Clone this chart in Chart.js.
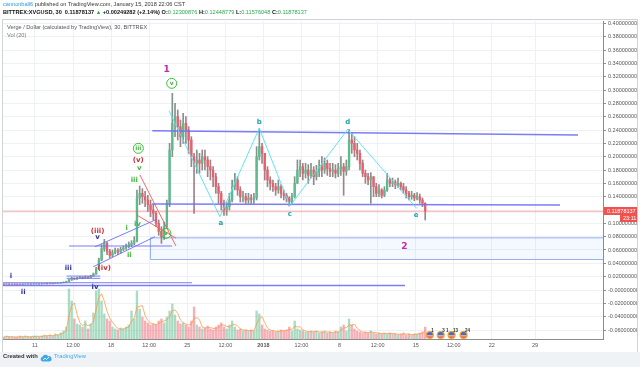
<!DOCTYPE html>
<html>
<head>
<meta charset="utf-8">
<script src="https://cdn.jsdelivr.net/npm/chart.js@4.4.0/dist/chart.umd.min.js"></script>
<style>
body{margin:0;width:640px;height:367px;overflow:hidden;background:#fff;font-family:"Liberation Sans",Arial,sans-serif;position:relative}
#foot{position:absolute;left:0;top:352px;width:640px;height:15px;background:#f0f3f6}
#frame{position:absolute;left:2px;top:19px;width:634px;height:332px;border:1px solid #cfd3d8;background:#fff}
canvas{position:absolute;left:0;top:0}
.t{position:absolute;white-space:nowrap}
.g{color:#2fa84f}
</style>
</head>
<body>
<div id="frame"></div>
<div id="foot"></div>
<canvas id="c" width="640" height="367"></canvas>

<div class="t" style="left:3px;top:1px;font-size:5.6px;color:#333"><span style="color:#2a9ce0">cannonball6</span> published on TradingView.com, January 15, 2018 22:06 CST</div>
<div class="t" style="left:3px;top:9px;font-size:5.6px;color:#111;font-weight:bold">BITTREX:XVGUSD, 30 &nbsp;0.11878137 <span class="g">&#9650;</span> +0.00249282 (+2.14%) O:<span class="g" style="font-weight:normal">0.12300876</span> H:<span class="g" style="font-weight:normal">0.12448779</span> L:<span class="g" style="font-weight:normal">0.11576048</span> C:<span class="g" style="font-weight:normal">0.11878137</span></div>
<div class="t" style="left:7px;top:24px;font-size:5.6px;color:#555">Verge / Dollar (calculated by TradingView), 30, BITTREX</div>
<div class="t" style="left:7px;top:32px;font-size:5.6px;color:#777">Vol (20)</div>
<div class="t" style="left:3px;top:353px;font-size:5.8px;color:#333;font-weight:bold">Created with</div>
<svg class="t" style="left:40px;top:354px" width="12" height="8" viewBox="0 0 12 8"><path d="M2.5 7.5 A2.4 2.4 0 0 1 2.6 2.8 A3 3 0 0 1 8 2.2 A2.6 2.6 0 0 1 9.6 7.5 Z" fill="#3fa9e8"/><path d="M3 6 L5 4.2 L6.5 5.4 L9 3" stroke="#fff" stroke-width="0.8" fill="none"/></svg>
<div class="t" style="left:54px;top:353px;font-size:5.8px;color:#3fa9e8">TradingView</div>

<script>
// time axis: days since Dec 11 2017 00:00, one candle = 6 hours starting Dec 8
var firstDay = -3;
var candleLen = 0.25;
var firstOpen = 0.0089;

var closes = [
  .0088,.0091,.0087,.0090,  .0089,.0087,.0090,.0088,  .0090,.0092,.0089,.0091,
  .0093,.0091,.0094,.0096,  .0095,.0098,.0097,.0100,  .0103,.0108,.0115,.0125,
  .0150,.0175,.0165,.0180,  .0190,.0178,.0195,.0185,  .0210,.0240,.0320,.0450,
  .0620,.0700,.0580,.0520,  .0560,.0590,.0570,.0610,  .0630,.0650,.0680,.0700,
  .0740,.1380,.1450,.1400,  .1350,.1280,.1200,.1150,  .1000,.0880,.0800,.0950,
  .1300,.2100,.2500,.2600,  .2450,.2300,.2500,.2400,  .2250,.2000,.1900,.1950,
  .1900,.2000,.1950,.1850,  .1800,.1700,.1550,.1450,  .1300,.1200,.1250,.1350,
  .1550,.1650,.1500,.1400,  .1400,.1350,.1380,.1360,  .1380,.2000,.2150,.2050,
  .1800,.1650,.1600,.1550,  .1500,.1550,.1450,.1420,  .1380,.1320,.1400,.1600,
  .1800,.1850,.1750,.1800,  .1720,.1800,.1700,.1780,  .1850,.1800,.1900,.1820,
  .1780,.1800,.1750,.1820,  .1850,.1780,.1850,.2250,  .2200,.2100,.2050,.1900,
  .1750,.1700,.1650,.1700,  .1550,.1450,.1500,.1420,  .1500,.1650,.1600,.1620,
  .1580,.1600,.1550,.1500,  .1450,.1400,.1420,.1380,  .1400,.1350,.1300,.11878137
];
var highs = [
  .0093,.0095,.0092,.0094,  .0093,.0092,.0094,.0093,  .0095,.0097,.0094,.0096,
  .0098,.0096,.0099,.0101,  .0101,.0104,.0102,.0106,  .0109,.0114,.0122,.0133,
  .0160,.0190,.0182,.0192,  .0205,.0198,.0210,.0200,  .0220,.0255,.0340,.0480,
  .0680,.0760,.0720,.0610,  .0600,.0630,.0620,.0640,  .0660,.0690,.0720,.0740,
  .0800,.1500,.1560,.1520,  .1480,.1420,.1350,.1280,  .1180,.1050,.0950,.1020,
  .1350,.2200,.2950,.2800,  .2700,.2550,.2650,.2600,  .2450,.2300,.2050,.2100,
  .2050,.2100,.2100,.2000,  .1950,.1850,.1750,.1600,  .1480,.1350,.1320,.1450,
  .1650,.1750,.1700,.1550,  .1480,.1450,.1450,.1430,  .1450,.2150,.2420,.2200,
  .2050,.1850,.1700,.1650,  .1600,.1650,.1580,.1500,  .1450,.1400,.1450,.1700,
  .1950,.1950,.1900,.1900,  .1880,.1900,.1850,.1870,  .1950,.2000,.1980,.1950,
  .1900,.1900,.1880,.1900,  .2000,.1900,.1950,.2410,  .2350,.2300,.2200,.2100,
  .1950,.1800,.1750,.1760,  .1700,.1600,.1580,.1520,  .1550,.1750,.1680,.1680,
  .1650,.1680,.1620,.1600,  .1550,.1480,.1480,.1450,  .1460,.1440,.1380,.1310
];
var lows = [
  .0084,.0086,.0083,.0085,  .0085,.0083,.0085,.0084,  .0086,.0087,.0085,.0087,
  .0088,.0087,.0089,.0091,  .0090,.0093,.0092,.0095,  .0097,.0101,.0106,.0112,
  .0120,.0145,.0155,.0160,  .0172,.0168,.0175,.0172,  .0180,.0205,.0235,.0310,
  .0440,.0580,.0530,.0480,  .0500,.0540,.0530,.0550,  .0590,.0610,.0630,.0650,
  .0680,.0720,.1280,.1300,  .1250,.1180,.1100,.1050,  .0950,.0820,.0700,.0760,
  .0920,.1250,.2000,.2300,  .2250,.2150,.2200,.2200,  .2050,.1850,.1150,.1750,
  .1750,.1800,.1800,.1700,  .1650,.1550,.1450,.1300,  .1200,.1120,.1120,.1200,
  .1320,.1500,.1420,.1320,  .1320,.1300,.1300,.1300,  .1300,.1350,.1950,.1900,
  .1650,.1550,.1500,.1480,  .1420,.1450,.1380,.1350,  .1320,.1260,.1300,.1380,
  .1600,.1700,.1650,.1680,  .1600,.1680,.1580,.1650,  .1700,.1700,.1750,.1720,
  .1700,.1700,.1680,.1700,  .1720,.1420,.1720,.1800,  .2050,.2000,.1950,.1800,
  .1700,.1600,.1580,.1300,  .1400,.1400,.1400,.1380,  .1400,.1480,.1550,.1550,
  .1520,.1540,.1500,.1450,  .1380,.1350,.1360,.1340,  .1350,.1300,.1250,.1050
];
var volumes = [
  2,3,2,2,  2,2,3,2,  3,2,2,3,  3,2,3,4,  3,4,3,5,  4,6,8,12,
  50,38,20,15,  14,12,18,10,  15,26,48,50,  38,25,20,18,  12,10,9,11,  10,12,14,28,
  20,48,30,22,  18,16,14,15,  14,18,20,16,  22,28,35,24,  18,15,16,14,  12,18,32,14,
  12,10,11,13,  10,9,12,14,  16,12,10,14,  18,12,9,10,  8,9,8,9,  8,28,25,14,
  10,9,8,8,  7,8,9,8,  9,12,8,18,  10,9,8,7,  7,8,7,8,  6,7,8,6,
  7,6,8,7,  12,14,8,20,  14,10,8,7,  6,7,6,8,  6,5,6,5,  6,5,6,5,
  5,4,5,6,  4,5,4,5,  5,6,7,12
];
var volMaLen = 3;

var xTickDays   = [0, 3.5, 7, 10.5, 14, 17.5, 21, 24.5, 28, 31.5, 35, 38.5, 42, 45.97];
var xTickLabels = ['11','12:00','18','12:00','25','12:00','2018','12:00','8','12:00','15','12:00','22','29'];
var yTicks = [-0.06,-0.04,-0.02,0,0.02,0.04,0.06,0.08,0.10,0.12,0.14,0.16,0.18,0.20,0.22,0.24,0.26,0.28,0.30,0.32,0.34,0.36,0.38,0.40];

// drawn lines, [day, price]
var resistanceLine = [[10.78,0.2389],[49.92,0.2325]];
var supportLine    = [[10.76,0.1290],[48.27,0.1275]];
var waveThreeLine  = [[3.13,0.066],[12.6,0.066]];
var channelUpper   = [[5.52,0.0649],[11.19,0.106]];
var channelLower   = [[5.36,0.0349],[11.03,0.080]];
var wedgeUpper     = [[9.65,0.1725],[12.96,0.066]];
var wedgeLower     = [[9.35,0.1125],[12.96,0.0778]];
var baseLineA      = [[-2.94,0.0109],[14.43,0.0109]];
var baseLineB      = [[-2.94,0.0067],[34.02,0.0067]];
var boxTopSmall    = [[2.91,0.0209],[6.0,0.0209]];
var boxBotSmall    = [[2.91,0.0175],[6.0,0.0175]];
var zigzag         = [[12.32,0.2689],[17.0,0.110],[20.62,0.2425],[23.44,0.126],[28.75,0.241],[35.09,0.1225]];
var targetBox      = [10.57, 0.0465, 0.079]; // start day, bottom, top

// wave labels [text, day, price]
var minorLabels  = [['i',-2.21,0.020],['ii',-1.08,-0.0026],['iii',3.06,0.0334],['iv',5.52,0.004],['v',5.76,0.0787]];
var redLabels    = [['(iii)',5.76,0.0885],['(iv)',6.37,0.0325],['(v)',9.50,0.194]];
var greenLabels  = [['v',9.59,0.1825],['iii',9.13,0.165],['i',8.43,0.0925],['ii',8.67,0.0525],['iv',9.42,0.099]];
var circleLabels = [['iii',9.50,0.2125],['v',12.57,0.310],['v',12.04,0.085]];
var abcdeLabels  = [['a',17.1,0.1005],['b',20.62,0.252],['c',23.44,0.114],['d',28.75,0.2524],['e',35.03,0.1125]];
var cycleLabels  = [['1',12.11,0.330],['2',33.95,0.0645]];

// economic event markers on the time axis
var eventDays   = [36.3, 37.3, 38.3, 39.4];
var eventCounts = ['1', '3 1', '13', '24'];

var opens = closes.map(function (c, i) { return i === 0 ? firstOpen : closes[i - 1]; });
var mid = closes.map(function (c, i) { return firstDay + candleLen * i + candleLen / 2; });
var up = closes.map(function (c, i) { return c >= opens[i]; });

var wickData = mid.map(function (x, i) { return {x: x, y: [lows[i], highs[i]]}; });
var bodyData = mid.map(function (x, i) {
  var o = opens[i], c = closes[i];
  if (Math.abs(o - c) < 0.0004) c = o + (up[i] ? 0.0004 : -0.0004);
  return {x: x, y: [o, c]};
});
var volData = mid.map(function (x, i) { return {x: x, y: volumes[i]}; });
var volMaData = mid.map(function (x, i) {
  var s = 0, n = 0;
  for (var k = Math.max(0, i - volMaLen + 1); k <= i; k++) { s += volumes[k]; n++; }
  return {x: x, y: s / n};
});

var X_MIN = -2.94, X_MAX = 52.22, Y_MIN = -0.0735, Y_MAX = 0.4035;
var lastClose = closes[closes.length - 1];

function pts(a) { return a.map(function (p) { return {x: p[0], y: p[1]}; }); }
function lineSet(a, color, w) {
  return {type: 'line', data: pts(a), borderColor: color, borderWidth: w || 1, pointRadius: 0, fill: false, tension: 0, yAxisID: 'y'};
}

var annot = {
  id: 'annot',
  beforeDatasetsDraw: function (chart) {
    var ctx = chart.ctx, xs = chart.scales.x, ys = chart.scales.y, a = chart.chartArea;
    var x0 = xs.getPixelForValue(targetBox[0]), x1 = a.right;
    var yb = ys.getPixelForValue(targetBox[1]), yt = ys.getPixelForValue(targetBox[2]);
    ctx.save();
    ctx.fillStyle = 'rgba(120,160,255,0.08)';
    ctx.fillRect(x0, yt, x1 - x0, yb - yt);
    ctx.strokeStyle = 'rgba(120,150,240,0.75)';
    ctx.lineWidth = 1;
    ctx.beginPath();
    ctx.moveTo(x1, yt + 0.5); ctx.lineTo(x0 + 0.5, yt + 0.5); ctx.lineTo(x0 + 0.5, yb + 0.5); ctx.lineTo(x1, yb + 0.5);
    ctx.stroke();
    ctx.restore();
  },
  afterDatasetsDraw: function (chart) {
    var ctx = chart.ctx, xs = chart.scales.x, ys = chart.scales.y, a = chart.chartArea;
    ctx.save();
    // last price line
    var py = Math.round(ys.getPixelForValue(lastClose)) + 0.5;
    ctx.strokeStyle = 'rgba(239,83,80,0.35)';
    ctx.lineWidth = 1.5;
    ctx.beginPath(); ctx.moveTo(a.left, py); ctx.lineTo(a.right, py); ctx.stroke();

    function labels(list, color, font) {
      ctx.fillStyle = color; ctx.font = font;
      ctx.textAlign = 'center'; ctx.textBaseline = 'middle';
      list.forEach(function (l) { ctx.fillText(l[0], xs.getPixelForValue(l[1]), ys.getPixelForValue(l[2])); });
    }
    labels(minorLabels, '#2b2f9e', 'bold 7px "DejaVu Sans"');
    labels(redLabels, '#c9302c', 'bold 7px "DejaVu Sans"');
    labels(greenLabels, '#3fb83a', 'bold 7px "DejaVu Sans"');
    labels(abcdeLabels, '#1fa3b3', 'bold 7px "DejaVu Sans"');
    labels(cycleLabels, '#c02bb0', 'bold 9px "DejaVu Sans"');
    circleLabels.forEach(function (l) {
      var cx = xs.getPixelForValue(l[1]), cy = ys.getPixelForValue(l[2]);
      ctx.strokeStyle = '#3fb83a'; ctx.lineWidth = 1;
      ctx.beginPath(); ctx.arc(cx, cy, 5, 0, Math.PI * 2); ctx.stroke();
    });
    labels(circleLabels, '#3fb83a', 'bold 6px "DejaVu Sans"');

    // event markers
    eventDays.forEach(function (d, i) {
      var cx = xs.getPixelForValue(d), cy = a.bottom - 4;
      ctx.beginPath(); ctx.arc(cx, cy, 3.5, 0, Math.PI * 2);
      ctx.fillStyle = '#fff'; ctx.fill();
      ctx.save(); ctx.clip();
      ctx.fillStyle = '#3b6fd1'; ctx.fillRect(cx - 4, cy - 4, 8, 4);
      ctx.fillStyle = '#e0454f'; ctx.fillRect(cx - 4, cy + 0.5, 8, 1.2); ctx.fillRect(cx - 4, cy + 2.2, 8, 1.2);
      ctx.restore();
      ctx.strokeStyle = '#f5a623'; ctx.lineWidth = 1.2; ctx.stroke();
      ctx.fillStyle = '#333'; ctx.font = 'bold 4.5px "Liberation Sans"';
      ctx.textAlign = 'left'; ctx.textBaseline = 'middle';
      ctx.fillText(eventCounts[i], cx + 1.5, cy - 4.5);
    });
    ctx.restore();
  },
  afterDraw: function (chart) {
    var ctx = chart.ctx, ys = chart.scales.y, a = chart.chartArea;
    var py = Math.round(ys.getPixelForValue(lastClose));
    ctx.save();
    ctx.fillStyle = '#ef5350';
    ctx.fillRect(a.right + 1, py - 4, 33, 8);
    ctx.fillRect(a.right + 17, py + 4, 17, 7);
    ctx.fillStyle = '#fff';
    ctx.font = '5.5px "Liberation Sans"';
    ctx.textBaseline = 'middle'; ctx.textAlign = 'left';
    ctx.fillText(lastClose.toFixed(8), a.right + 4, py);
    ctx.fillText('23:11', a.right + 20, py + 7.5);
    ctx.restore();
  }
};

new Chart(document.getElementById('c'), {
  type: 'bar',
  data: {
    datasets: [
      lineSet(zigzag, 'rgba(90,225,245,0.95)'),
      lineSet(resistanceLine, 'rgba(110,110,245,0.9)', 1.5),
      lineSet(supportLine, 'rgba(110,110,245,0.9)', 1.5),
      lineSet(waveThreeLine, 'rgba(110,110,245,0.9)'),
      lineSet(channelUpper, 'rgba(110,110,245,0.9)'),
      lineSet(channelLower, 'rgba(110,110,245,0.9)'),
      lineSet(wedgeUpper, 'rgba(240,90,90,0.9)'),
      lineSet(wedgeLower, 'rgba(240,90,90,0.9)'),
      lineSet(baseLineA, 'rgba(110,110,245,0.9)'),
      lineSet(baseLineB, 'rgba(110,110,245,0.9)', 1.5),
      lineSet(boxTopSmall, 'rgba(110,110,245,0.9)'),
      lineSet(boxBotSmall, 'rgba(110,110,245,0.9)'),
      {
        type: 'bar', data: bodyData, yAxisID: 'y', grouped: false, barThickness: 1.7,
        backgroundColor: up.map(function (u) { return u ? '#5cba8c' : '#e8606b'; })
      },
      {
        type: 'bar', data: wickData, yAxisID: 'y', grouped: false, barThickness: 1,
        backgroundColor: up.map(function (u) { return u ? 'rgba(90,110,100,0.75)' : 'rgba(125,90,95,0.75)'; })
      },
      {
        type: 'line', data: volMaData, yAxisID: 'yv', borderColor: 'rgba(255,150,60,0.75)',
        borderWidth: 1, pointRadius: 0, tension: 0
      },
      {
        type: 'bar', data: volData, yAxisID: 'yv', grouped: false, barThickness: 1.7,
        backgroundColor: up.map(function (u) { return u ? 'rgba(83,185,135,0.5)' : 'rgba(235,77,92,0.45)'; })
      }
    ]
  },
  options: {
    animation: false,
    responsive: false,
    maintainAspectRatio: false,
    layout: {padding: {left: 3, top: 21, right: 3, bottom: 15}},
    plugins: {legend: {display: false}, tooltip: {enabled: false}},
    scales: {
      x: {
        type: 'linear', min: X_MIN, max: X_MAX, offset: false,
        grid: {color: '#edf1f6', drawTicks: false, offset: false},
        border: {display: true, color: '#8c8c8c'},
        ticks: {
          padding: 3, maxRotation: 0, autoSkip: false, color: '#555',
          font: function (c) { return {size: 5.5, family: 'Liberation Sans', weight: (c.tick && c.tick.label === '2018') ? 'bold' : 'normal'}; },
          callback: function (v) { var i = xTickDays.indexOf(v); return i >= 0 ? xTickLabels[i] : ''; }
        },
        afterBuildTicks: function (s) { s.ticks = xTickDays.map(function (v) { return {value: v}; }); },
        afterFit: function (s) { s.height = 13; }
      },
      y: {
        position: 'right', min: Y_MIN, max: Y_MAX,
        grid: {color: '#edf1f6', tickColor: '#8c8c8c', tickLength: 3},
        border: {display: true, color: '#8c8c8c'},
        ticks: {
          padding: 2, color: '#555', font: {size: 5.5, family: 'Liberation Sans'},
          callback: function (v) { return Math.abs(v) < 1e-9 ? '-0.00000000' : v.toFixed(8); }
        },
        afterBuildTicks: function (s) { s.ticks = yTicks.map(function (v) { return {value: v}; }); },
        afterFit: function (s) { s.width = 34; }
      },
      yv: {display: false, min: 0, max: 318}
    }
  },
  plugins: [annot]
});
</script>
</body>
</html>
